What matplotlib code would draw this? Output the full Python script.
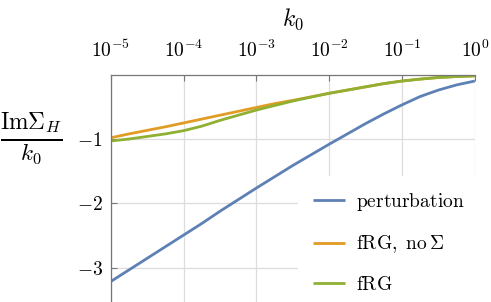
import matplotlib
matplotlib.use("Agg")
import matplotlib.pyplot as plt

plt.rcParams['mathtext.fontset'] = 'cm'
plt.rcParams['font.family'] = 'serif'
plt.rcParams['font.serif'] = ['DejaVu Serif']

# k0 exponents (quarter decades) and read-off curves
k0_exp = [-5, -4.75, -4.5, -4.25, -4, -3.75, -3.5, -3.25, -3, -2.75, -2.5, -2.25,
          -2, -1.75, -1.5, -1.25, -1, -0.75, -0.5, -0.25, 0]
perturbation = [-3.21, -3.03, -2.85, -2.67, -2.49, -2.31, -2.12, -1.94, -1.76, -1.585, -1.41, -1.245,
                -1.08, -0.92, -0.76, -0.61, -0.47, -0.34, -0.24, -0.16, -0.10]
frg_no_sigma = [-0.98, -0.92, -0.865, -0.81, -0.75, -0.69, -0.63, -0.57, -0.51, -0.45, -0.40, -0.345,
                -0.29, -0.24, -0.19, -0.14, -0.10, -0.07, -0.045, -0.03, -0.02]
frg = [-1.03, -1.00, -0.96, -0.92, -0.87, -0.80, -0.71, -0.63, -0.55, -0.48, -0.41, -0.35,
       -0.29, -0.24, -0.19, -0.14, -0.10, -0.07, -0.045, -0.03, -0.02]

labels = [r'$\mathrm{perturbation}$', r'$\mathrm{fRG,\ no}\,\Sigma$', r'$\mathrm{fRG}$']
colors = ['#5E81B5', '#E19C24', '#8FB032']

k0 = [10.0 ** e for e in k0_exp]

fig = plt.figure(figsize=(4.91, 3.02), dpi=100)
ax = fig.add_axes([0.226, 0.0, 0.741, 0.753])

for ys, lab, c in zip([perturbation, frg_no_sigma, frg], labels, colors):
    ax.plot(k0, ys, color=c, lw=2.0, label=lab, solid_capstyle='butt')

ax.set_xscale('log')
ax.set_xlim(1e-5, 1e0)
ax.set_ylim(-3.53, 0)
ax.set_xticks([1e-5, 1e-4, 1e-3, 1e-2, 1e-1, 1e0])
ax.set_xticklabels([r'$10^{-5}$', r'$10^{-4}$', r'$10^{-3}$', r'$10^{-2}$', r'$10^{-1}$', r'$10^{0}$'])
ax.minorticks_off()
ax.set_yticks([-1, -2, -3])
ax.set_yticklabels([r'$-1$', r'$-2$', r'$-3$'])

ax.xaxis.tick_top()
ax.xaxis.set_label_position('top')
ax.tick_params(axis='both', direction='in', length=4, color='#777777', labelsize=14, width=0.8)
ax.tick_params(axis='x', pad=10)
ax.tick_params(axis='y', pad=6)
ax.set_xlabel(r'$k_0$', fontsize=17, labelpad=10)
ax.set_ylabel(r'$\frac{\mathrm{Im}\Sigma_H}{k_0}$', fontsize=24, rotation=0, labelpad=0)
ax.yaxis.set_label_coords(-0.22, 0.59)

ax.grid(True, color='#dddddd', lw=0.9)
for side in ['bottom', 'right']:
    ax.spines[side].set_visible(False)
for side in ['left', 'top']:
    ax.spines[side].set_color('#777777')
    ax.spines[side].set_linewidth(0.9)

leg = fig.legend(loc='lower left', bbox_to_anchor=(0.588, -0.055), fontsize=14,
                 frameon=True, edgecolor='none', facecolor='white', framealpha=1,
                 handlelength=1.6, handletextpad=0.57, labelspacing=1.06, borderpad=0.77, fancybox=False)

fig.savefig('out.png', dpi=100)
